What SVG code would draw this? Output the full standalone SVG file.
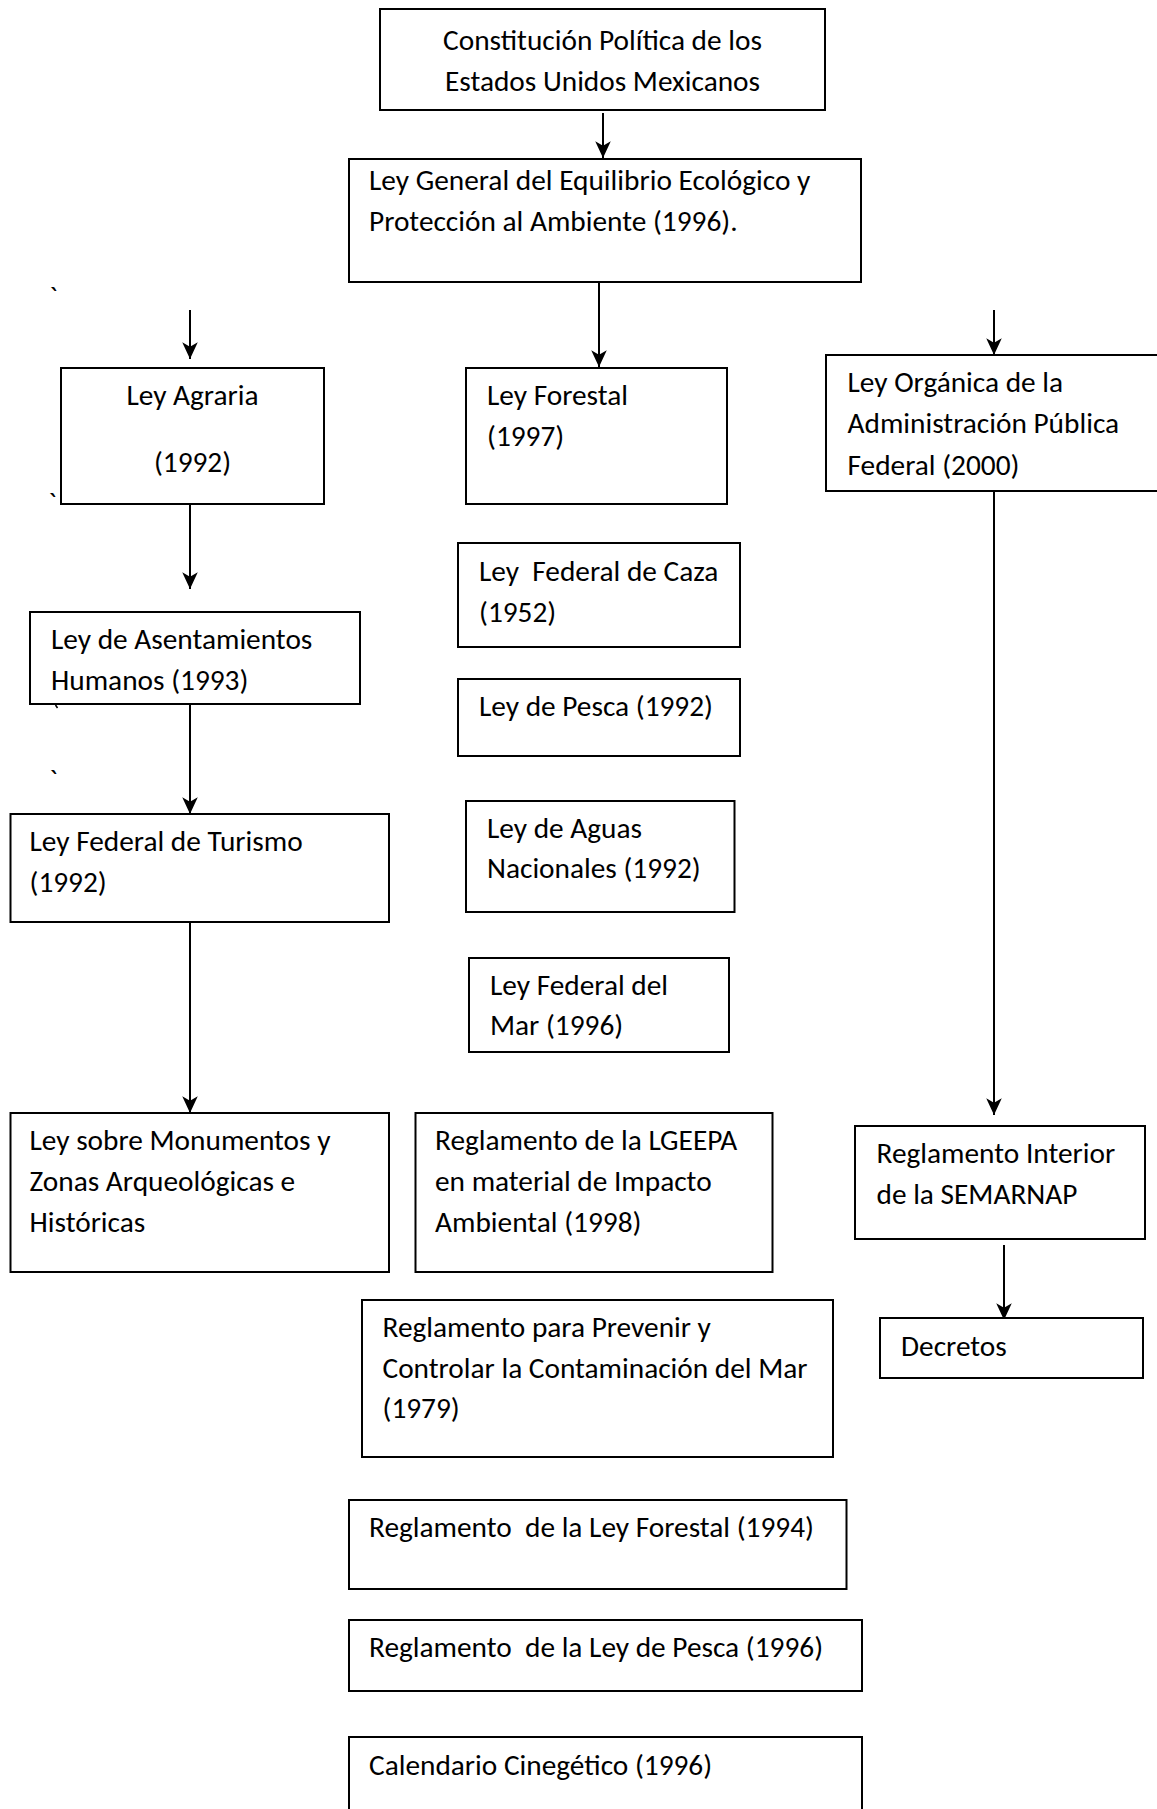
<svg xmlns="http://www.w3.org/2000/svg" width="1157" height="1809" viewBox="0 0 1157 1809">
  <style>
    .box { fill: #ffffff; stroke: #000000; stroke-width: 2; }
    .t { font-family: Carlito, Lato, "Liberation Sans", sans-serif; font-size: 29.33px; fill: #000000; }
    .c { text-anchor: middle; }
    .edge { stroke: #000000; stroke-width: 2; fill: none; }
    .arr { marker-end: url(#ah); }
  </style>
  <defs>
    <marker id="ah" markerUnits="userSpaceOnUse" markerWidth="20" markerHeight="20" viewBox="-1 -9 18 18" refX="15" refY="0" orient="auto">
      <path d="M0,-7 L15,0 L0,7 L4,0 Z" fill="#000000"/>
    </marker>
  </defs>

  <g id="marks">
    <text class="t" x="49" y="307">`</text>
    <text class="t" x="48" y="513">`</text>
    <line x1="55.5" y1="705" x2="57.5" y2="708" stroke="#000000" stroke-width="1.5"/>
    <text class="t" x="49" y="790">`</text>
  </g>

  <g id="connectors">
    <line class="edge arr" x1="603" y1="113" x2="603" y2="158"/>
    <line class="edge arr" x1="599" y1="281" x2="599" y2="367"/>
    <line class="edge arr" x1="190" y1="310" x2="190" y2="359"/>
    <line class="edge arr" x1="994" y1="310" x2="994" y2="355"/>
    <line class="edge arr" x1="190" y1="498" x2="190" y2="589"/>
    <line class="edge arr" x1="190" y1="704" x2="190" y2="814"/>
    <line class="edge arr" x1="190" y1="918" x2="190" y2="1113"/>
    <line class="edge arr" x1="994" y1="486" x2="994" y2="1115"/>
    <line class="edge arr" x1="1004" y1="1245" x2="1004" y2="1320"/>
  </g>

  <g id="n-constitucion">
    <rect class="box" x="380" y="9" width="445" height="101"/>
    <text class="t c" x="602.5" y="50">Constitución Política de los</text>
    <text class="t c" x="602.5" y="91">Estados Unidos Mexicanos</text>
  </g>

  <g id="n-lgeepa">
    <rect class="box" x="349" y="159" width="512" height="123"/>
    <text class="t" x="369" y="190">Ley General del Equilibrio Ecológico y</text>
    <text class="t" x="369" y="231">Protección al Ambiente (1996).</text>
  </g>

  <g id="n-agraria">
    <rect class="box" x="61" y="368" width="263" height="136"/>
    <text class="t c" x="192.5" y="405">Ley Agraria</text>
    <text class="t c" x="192.5" y="472">(1992)</text>
  </g>

  <g id="n-forestal">
    <rect class="box" x="466" y="368" width="261" height="136"/>
    <text class="t" x="487" y="405">Ley Forestal</text>
    <text class="t" x="487" y="446">(1997)</text>
  </g>

  <g id="n-organica">
    <rect class="box" x="826" y="355" width="340" height="136"/>
    <text class="t" x="847.5" y="392">Ley Orgánica de la</text>
    <text class="t" x="847.5" y="433">Administración Pública</text>
    <text class="t" x="847.5" y="475">Federal (2000)</text>
  </g>

  <g id="n-caza">
    <rect class="box" x="458" y="543" width="282" height="104"/>
    <text class="t" x="479" y="581" xml:space="preserve">Ley  Federal de Caza</text>
    <text class="t" x="479" y="622">(1952)</text>
  </g>

  <g id="n-asentamientos">
    <rect class="box" x="30" y="612" width="330" height="92"/>
    <text class="t" x="51" y="649">Ley de Asentamientos</text>
    <text class="t" x="51" y="690">Humanos (1993)</text>
  </g>

  <g id="n-pesca">
    <rect class="box" x="458" y="679" width="282" height="77"/>
    <text class="t" x="479" y="716">Ley de Pesca (1992)</text>
  </g>

  <g id="n-aguas">
    <rect class="box" x="466" y="801" width="268.5" height="111"/>
    <text class="t" x="487" y="838">Ley de Aguas</text>
    <text class="t" x="487" y="878">Nacionales (1992)</text>
  </g>

  <g id="n-turismo">
    <rect class="box" x="10.5" y="814" width="378.5" height="108"/>
    <text class="t" x="29.5" y="851">Ley Federal de Turismo</text>
    <text class="t" x="29.5" y="892">(1992)</text>
  </g>

  <g id="n-mar">
    <rect class="box" x="469" y="958" width="260" height="94"/>
    <text class="t" x="490" y="995">Ley Federal del</text>
    <text class="t" x="490" y="1035">Mar (1996)</text>
  </g>

  <g id="n-monumentos">
    <rect class="box" x="10.5" y="1113" width="378.5" height="159"/>
    <text class="t" x="29.5" y="1150">Ley sobre Monumentos y</text>
    <text class="t" x="29.5" y="1191">Zonas Arqueológicas e</text>
    <text class="t" x="29.5" y="1232">Históricas</text>
  </g>

  <g id="n-reg-lgeepa">
    <rect class="box" x="415.5" y="1113" width="357" height="159"/>
    <text class="t" x="435" y="1150">Reglamento de la LGEEPA</text>
    <text class="t" x="435" y="1191">en material de Impacto</text>
    <text class="t" x="435" y="1232">Ambiental (1998)</text>
  </g>

  <g id="n-reg-interior">
    <rect class="box" x="855" y="1126" width="290" height="113"/>
    <text class="t" x="876.5" y="1163">Reglamento Interior</text>
    <text class="t" x="876.5" y="1204">de la SEMARNAP</text>
  </g>

  <g id="n-decretos">
    <rect class="box" x="880" y="1318" width="263" height="60"/>
    <text class="t" x="901" y="1356">Decretos</text>
  </g>

  <g id="n-reg-mar">
    <rect class="box" x="362" y="1300" width="471" height="157"/>
    <text class="t" x="382.5" y="1337">Reglamento para Prevenir y</text>
    <text class="t" x="382.5" y="1378">Controlar la Contaminación del Mar</text>
    <text class="t" x="382.5" y="1418">(1979)</text>
  </g>

  <g id="n-reg-forestal">
    <rect class="box" x="349" y="1500" width="497.5" height="89"/>
    <text class="t" x="369" y="1537" xml:space="preserve">Reglamento  de la Ley Forestal (1994)</text>
  </g>

  <g id="n-reg-pesca">
    <rect class="box" x="349" y="1620" width="513" height="71"/>
    <text class="t" x="369" y="1657" xml:space="preserve">Reglamento  de la Ley de Pesca (1996)</text>
  </g>

  <g id="n-calendario">
    <rect class="box" x="349" y="1737" width="513" height="90"/>
    <text class="t" x="369" y="1775">Calendario Cinegético (1996)</text>
  </g>
</svg>
